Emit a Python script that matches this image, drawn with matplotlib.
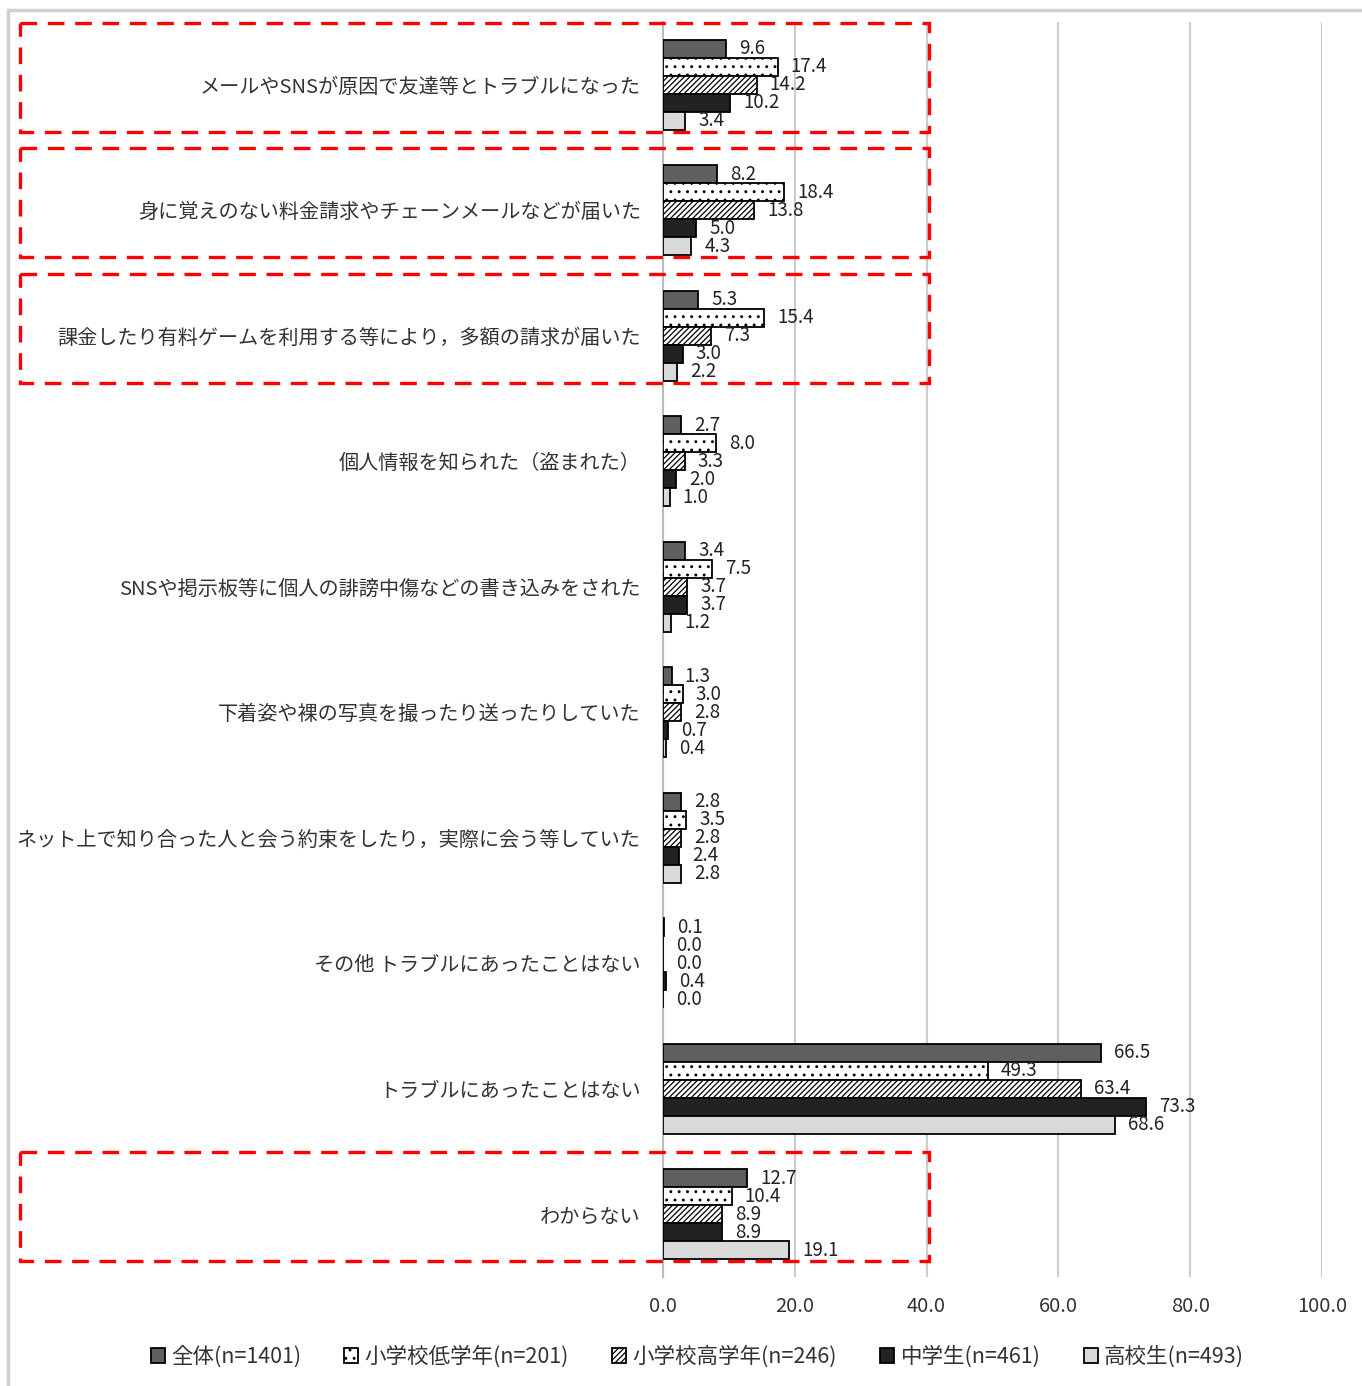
import matplotlib
matplotlib.use("Agg")
import matplotlib.pyplot as plt
from matplotlib.patches import Rectangle, Patch
from matplotlib.transforms import blended_transform_factory
import numpy as np

plt.rcParams['font.family'] = ['Noto Sans CJK JP', 'DejaVu Sans']
plt.rcParams['hatch.linewidth'] = 0.9

categories = [
    "メールやSNSが原因で友達等とトラブルになった",
    "身に覚えのない料金請求やチェーンメールなどが届いた",
    "課金したり有料ゲームを利用する等により，多額の請求が届いた",
    "個人情報を知られた（盗まれた）",
    "SNSや掲示板等に個人の誹謗中傷などの書き込みをされた",
    "下着姿や裸の写真を撮ったり送ったりしていた",
    "ネット上で知り合った人と会う約束をしたり，実際に会う等していた",
    "その他 トラブルにあったことはない",
    "トラブルにあったことはない",
    "わからない",
]

series_names = ["全体(n=1401)", "小学校低学年(n=201)", "小学校高学年(n=246)",
                "中学生(n=461)", "高校生(n=493)"]

zentai = [9.6, 8.2, 5.3, 2.7, 3.4, 1.3, 2.8, 0.1, 66.5, 12.7]
sho_low = [17.4, 18.4, 15.4, 8.0, 7.5, 3.0, 3.5, 0.0, 49.3, 10.4]
sho_high = [14.2, 13.8, 7.3, 3.3, 3.7, 2.8, 2.8, 0.0, 63.4, 8.9]
chugaku = [10.2, 5.0, 3.0, 2.0, 3.7, 0.7, 2.4, 0.4, 73.3, 8.9]
koko = [3.4, 4.3, 2.2, 1.0, 1.2, 0.4, 2.8, 0.0, 68.6, 19.1]

# categories highlighted with a dashed frame
highlighted = [0, 1, 2, 9]

x_ticks = [0, 20, 40, 60, 80, 100]

series = [zentai, sho_low, sho_high, chugaku, koko]
styles = [
    dict(facecolor="#5f5f5f", hatch=None),
    dict(facecolor="white", hatch=".."),
    dict(facecolor="white", hatch="//////"),
    dict(facecolor="#222222", hatch=None),
    dict(facecolor="#d9d9d9", hatch=None),
]

fig = plt.figure(figsize=(13.62, 13.86), dpi=100)
ax = fig.add_axes([663 / 1362, 1 - 1277 / 1386, 659 / 1362, (1277 - 22) / 1386])

n_cat = len(categories)
centers = np.arange(n_cat)
bar_h = 0.143
offsets = (np.arange(5) - 2) * bar_h

for s, (vals, st) in enumerate(zip(series, styles)):
    ys = centers + offsets[s]
    ax.barh(ys, vals, height=bar_h, facecolor=st["facecolor"], hatch=st["hatch"],
            edgecolor="black", linewidth=1.3, zorder=3)
    for y, v in zip(ys, vals):
        ax.annotate(f"{v:.1f}", xy=(v, y), xytext=(9.5, 0), textcoords="offset points",
                    ha="left", va="center", fontsize=13.5, color="#222222", zorder=4)

ax.set_ylim(n_cat - 0.5, -0.5)
ax.set_xlim(0, 100)
ax.set_xticks(x_ticks)
ax.set_xticklabels([f"{t:.1f}" for t in x_ticks], fontsize=14.5, color="#333333")
ax.tick_params(axis="x", length=0, pad=14)
ax.set_yticks(centers)
ax.set_yticklabels(categories, fontsize=14.5, color="#333333")
ax.tick_params(axis="y", length=0, pad=16)

ax.grid(axis="x", color="#cccccc", linewidth=1.5, zorder=0)
for sp in ["top", "right", "bottom"]:
    ax.spines[sp].set_visible(False)
ax.spines["left"].set_color("#bbbbbb")
ax.spines["left"].set_linewidth(1.5)
ax.spines["left"].set_zorder(2)

# dashed red frames around the highlighted categories
trans = blended_transform_factory(ax.transAxes, ax.transData)
left_frac = (20 - 663) / 659
right_frac = 0.403
for i in highlighted:
    top = i - 0.495
    bottom = i + 0.375
    rect = Rectangle((left_frac, top), right_frac - left_frac, bottom - top,
                     transform=trans, fill=False, edgecolor="#ff0000",
                     linewidth=2.4, linestyle=(0, (5, 3.2)), clip_on=False, zorder=5)
    ax.add_patch(rect)

# legend
handles = [Patch(facecolor=st["facecolor"], hatch=st["hatch"], edgecolor="black",
                 linewidth=1.3) for st in styles]
leg = fig.legend(handles, series_names, loc="center", bbox_to_anchor=(0.512, 1 - 1357 / 1386),
                 ncol=5, frameon=False, fontsize=15.5, handlelength=0.65, handleheight=0.65,
                 handletextpad=0.3, columnspacing=2.0, labelcolor="#333333")

# outer chart frame
fig.patches.append(Rectangle((8 / 1362, -0.01), 1.05, 1 - 10 / 1386 + 0.01,
                             transform=fig.transFigure, fill=False,
                             edgecolor="#d0d0d0", linewidth=2.5, zorder=0))

fig.savefig("out.png", dpi=100, facecolor="white")
